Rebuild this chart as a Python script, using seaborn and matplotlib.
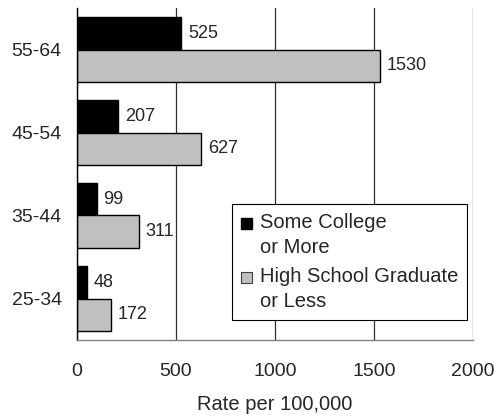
import matplotlib
matplotlib.use("Agg")
import matplotlib.pyplot as plt
from matplotlib.patches import Rectangle
from matplotlib.legend_handler import HandlerPatch
import seaborn as sns
import pandas as pd

# Death rates per 100,000 by age group and education level
age_groups = ["55-64", "45-54", "35-44", "25-34"]
some_college = [525, 207, 99, 48]
high_school = [1530, 627, 311, 172]
series_names = ["Some College\nor More", "High School Graduate\nor Less"]
x_ticks = [0, 500, 1000, 1500, 2000]

df = pd.DataFrame({
    "age": age_groups * 2,
    "rate": some_college + high_school,
    "group": [series_names[0]] * len(age_groups) + [series_names[1]] * len(age_groups),
})

sns.set_style("white")
plt.rcParams["font.family"] = ["Liberation Sans", "DejaVu Sans"]

fig = plt.figure(figsize=(4.94, 4.19), dpi=100)
ax = fig.add_axes([77 / 494, 1 - 340 / 419, 396 / 494, 332 / 419])

colors = ["#000000", "#c0c0c0"]
sns.barplot(data=df, x="rate", y="age", hue="group", order=age_groups,
            hue_order=series_names, palette=colors, orient="h",
            edgecolor="black", linewidth=1.0, width=0.78, ax=ax, legend=False)

for cont in ax.containers:
    ax.bar_label(cont, padding=5, fontsize=13)

ax.set_xlim(0, 2000)
ax.set_ylim(3.5, -0.5)
ax.set_xticks(x_ticks)
ax.set_xticklabels([str(v) for v in x_ticks])
ax.set_xlabel("Rate per 100,000", fontsize=14.5, labelpad=11)
ax.set_ylabel("")

# category labels centered, tick marks at group boundaries
ax.set_yticks(range(len(age_groups)))
ax.set_yticklabels(age_groups, fontsize=14)
ax.set_yticks([i - 0.5 for i in range(len(age_groups) + 1)], minor=True)
ax.tick_params(axis="y", which="major", length=0, pad=11)
ax.tick_params(axis="y", which="minor", length=4.5, width=1, color="#808080", direction="out")
ax.tick_params(axis="x", which="major", length=4.5, width=1, color="#404040",
               direction="out", labelsize=14, pad=12)

ax.grid(axis="x", color="#303030", linewidth=0.9)
ax.grid(axis="y", visible=False)
ax.set_axisbelow(True)

for side in ["top", "right"]:
    ax.spines[side].set_visible(False)
ax.spines["left"].set_color("black")
ax.spines["left"].set_linewidth(1)
ax.spines["bottom"].set_color("#808080")
ax.spines["bottom"].set_linewidth(1)


def top_square(legend, orig_handle, xdescent, ydescent, width, height, fontsize):
    s = 0.57 * fontsize
    return Rectangle((-xdescent, -ydescent + 0.62 * fontsize), s, s)


handles = [Rectangle((0, 0), 1, 1, facecolor=colors[0], edgecolor=colors[0]),
           Rectangle((0, 0), 1, 1, facecolor=colors[1], edgecolor="#404040", linewidth=0.8)]
leg = ax.legend(handles, series_names, loc="upper left", bbox_to_anchor=(0.391, 0.41),
                fontsize=14.5, frameon=True, fancybox=False, framealpha=1,
                edgecolor="black", handlelength=0.57, handleheight=0.57,
                handletextpad=0.36, borderpad=0.45, labelspacing=0.5,
                borderaxespad=0,
                handler_map={Rectangle: HandlerPatch(patch_func=top_square)})
leg.get_frame().set_linewidth(0.8)
for t in leg.get_texts():
    t.set_linespacing(1.4)

fig.savefig("out.png", dpi=100)
